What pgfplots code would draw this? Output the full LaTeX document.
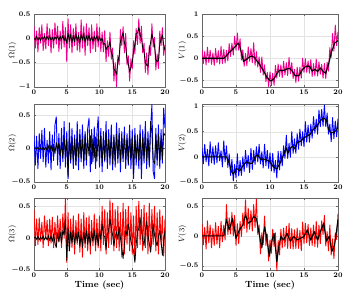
\documentclass[border=0pt]{standalone}
\usepackage{pgfplots}
\usepackage{pgfplotstable}
\pgfplotsset{compat=1.18}
\pgfplotstableread{
t a ab b bb c cb d e f
0.0 0.25 0 0.2 0 0.45 0 0.2 0.18 0.2
0.2 -0.2 -0.03 -0.25 0.01 -0.12 0.02 -0.12 -0.14 -0.15
0.4 0.15 0.05 0.18 -0.01 0.3 -0.02 0.15 0.25 0.14
0.6 -0.28 -0.04 -0.3 0.02 -0.1 0.03 -0.15 -0.1 -0.22
0.8 0.22 0.02 0.22 -0.02 0.32 -0.03 0.25 0.15 0.25
1.0 -0.1 -0.05 -0.15 0.01 -0.05 0.02 -0.1 -0.18 -0.12
1.2 0.28 0.03 0.27 -0.02 0.25 -0.02 0.18 0.3 0.18
1.4 -0.25 -0.02 -0.2 0.02 -0.15 0.03 -0.14 -0.12 -0.2
1.6 0.1 0.05 0.3 -0.02 0.35 -0.03 0.12 0.2 0.12
1.8 -0.22 -0.04 -0.28 0.02 0.0 0.02 -0.16 -0.15 -0.16
2.0 0.3 0.04 0.12 -0.03 0.28 -0.03 0.22 0.22 0.22
2.2 -0.15 -0.03 -0.22 0.04 -0.12 0.04 -0.1 -0.12 -0.14
2.4 0.2 0.05 0.25 -0.05 0.3 -0.04 0.17 0.28 0.16
2.6 -0.3 -0.04 -0.32 0.05 -0.08 0.03 -0.13 -0.08 -0.2
2.8 0.18 0.02 0.2 -0.04 0.33 -0.05 0.27 0.12 0.24
3.0 -0.2 -0.05 -0.18 0.06 -0.15 0.06 -0.12 -0.2 -0.1
3.2 0.32 0.03 0.35 -0.08 0.25 -0.08 0.2 0.32 0.18
3.4 -0.12 -0.02 0.47 0.09 -0.1 -0.15 -0.11 -0.1 -0.07
3.6 0.25 0.05 -0.25 -0.06 0.35 0.08 0.18 0.22 0.52
3.8 -0.27 -0.04 0.22 0.08 -0.05 -0.06 -0.06 -0.21 0.02
4.0 0.15 0.04 -0.3 -0.11 0.3 0.1 0.33 0.06 0.3
4.2 -0.22 -0.03 0.3 0.09 -0.15 -0.08 0.04 -0.37 0.03
4.4 0.35 0.06 -0.2 -0.14 0.38 0.12 0.34 -0.05 0.39
4.6 -0.18 -0.05 0.4 0.15 0.0 0.05 0.07 -0.48 0.0
4.8 0.22 0.03 -0.28 -0.11 0.63 0.3 0.5 -0.15 0.34
5.0 -0.48 -0.1 0.25 0.14 -0.38 -0.35 0.18 -0.42 -0.16
5.2 0.4 0.1 -0.45 -0.42 0.4 0.15 0.57 0.06 0.2
5.4 -0.2 -0.06 0.38 0.15 -0.2 -0.2 0.18 -0.38 -0.13
5.6 0.28 0.08 -0.22 -0.17 0.3 0.1 0.44 -0.07 0.24
5.8 -0.3 -0.08 0.3 0.11 -0.15 -0.08 -0.04 -0.37 -0.01
6.0 0.2 0.06 -0.3 -0.19 0.35 0.12 0.19 0.0 0.38
6.2 -0.15 -0.07 0.2 0.15 -0.25 -0.1 -0.18 -0.29 0.12
6.4 0.3 0.09 -0.25 -0.25 0.28 0.08 0.11 0.13 0.6
6.6 -0.25 -0.05 0.4 0.17 -0.1 -0.05 -0.17 -0.21 0.06
6.8 0.12 0.06 -0.32 -0.14 0.38 0.1 0.26 0.03 0.46
7.0 -0.28 -0.1 0.28 0.19 -0.22 -0.12 -0.07 -0.31 0.11
7.2 0.38 0.08 -0.2 -0.15 0.3 0.05 0.22 0.17 0.42
7.4 -0.2 -0.04 0.35 0.14 -0.3 -0.15 -0.1 -0.25 0.08
7.6 0.25 0.1 -0.3 -0.19 0.4 0.1 0.35 0.13 0.52
7.8 -0.35 -0.08 0.25 0.21 -0.15 -0.08 -0.16 -0.15 0.14
8.0 0.3 0.05 -0.25 -0.17 0.32 0.12 0.15 0.2 0.61
8.2 -0.15 -0.04 0.3 0.15 -0.2 -0.1 -0.2 -0.1 0.02
8.4 0.22 0.06 0.45 -0.11 0.35 0.08 0.03 0.25 0.18
8.6 -0.3 -0.05 -0.35 0.19 -0.25 -0.12 -0.32 -0.14 -0.3
8.8 0.28 0.03 0.28 -0.23 0.28 0.1 0.03 0.1 0.05
9.0 -0.22 -0.06 -0.2 0.15 -0.12 -0.05 -0.38 -0.22 -0.15
9.2 0.15 0.04 0.32 -0.14 0.38 0.12 -0.15 0.25 0.33
9.4 -0.27 -0.03 -0.3 0.17 -0.2 -0.1 -0.53 -0.18 -0.16
9.6 0.3 0.05 0.22 -0.19 0.3 0.08 -0.32 0.13 0.03
9.8 -0.18 -0.06 0.47 0.23 -0.15 -0.12 -0.64 -0.23 -0.42
10.0 0.22 0.03 -0.28 -0.15 0.35 0.1 -0.31 0.08 -0.07
10.2 -0.27 -0.05 0.3 0.19 -0.2 -0.02 -0.62 -0.28 -0.29
10.4 0.13 0.0 -0.35 -0.21 0.5 0.22 -0.34 0.07 0.11
10.6 -0.28 -0.12 0.25 0.15 -0.1 0.05 -0.61 -0.31 -0.18
10.8 0.16 -0.1 -0.2 -0.17 0.45 0.02 -0.16 -0.07 0.05
11.0 -0.48 -0.23 0.4 0.23 -0.25 -0.18 -0.45 -0.42 -0.58
11.2 -0.05 -0.17 -0.3 -0.19 0.4 0.05 -0.13 0.11 -0.08
11.4 -0.37 -0.17 0.28 0.14 -0.15 0.12 -0.41 -0.26 -0.32
11.6 0.13 -0.07 -0.25 -0.15 0.6 0.3 -0.15 0.11 0.11
11.8 -0.43 -0.29 0.35 0.19 -0.1 0.15 -0.44 -0.18 -0.2
12.0 -0.2 -0.36 -0.32 -0.23 0.55 0.05 -0.07 0.22 0.13
12.2 -0.88 -0.63 0.2 0.17 -0.2 -0.12 -0.38 -0.03 -0.18
12.4 -0.5 -0.67 -0.28 -0.19 0.45 0.02 -0.1 0.43 0.16
12.6 -1.0 -0.74 0.38 0.21 -0.15 0.1 -0.39 -0.03 -0.21
12.8 -0.35 -0.48 -0.22 -0.15 0.5 -0.02 0.02 0.27 0.21
13.0 -0.55 -0.35 0.3 0.19 -0.2 0.18 -0.35 -0.01 -0.21
13.2 0.18 -0.07 -0.35 -0.21 0.4 0.0 -0.1 0.5 0.12
13.4 -0.15 0.03 0.25 0.15 -0.3 -0.15 -0.46 0.07 -0.22
13.6 0.24 0.11 -0.2 -0.14 0.55 -0.32 -0.25 0.36 0.1
13.8 -0.3 -0.09 0.32 0.19 -0.25 -0.1 -0.55 0.07 -0.21
14.0 0.1 -0.16 -0.3 -0.17 0.45 0.12 -0.2 0.46 0.13
14.2 -0.55 -0.43 0.22 0.15 -0.1 0.05 -0.52 0.15 -0.21
14.4 -0.36 -0.53 -0.25 -0.23 0.5 0.22 -0.2 0.55 0.09
14.6 -0.88 -0.69 0.35 0.19 -0.2 0.08 -0.45 0.22 -0.25
14.8 -0.42 -0.6 -0.3 -0.15 0.4 -0.05 0.0 0.5 0.23
15.0 -0.63 -0.5 0.28 0.17 -0.25 -0.12 -0.32 0.2 -0.13
15.2 -0.05 -0.27 -0.45 -0.38 0.35 -0.2 -0.01 0.7 0.21
15.4 -0.32 -0.12 0.3 0.19 -0.35 -0.38 -0.32 0.29 -0.12
15.6 0.2 0.1 -0.25 -0.15 0.5 -0.1 -0.06 0.63 0.19
15.8 -0.13 0.11 0.2 0.14 -0.15 0.1 -0.34 0.29 -0.16
16.0 0.4 0.22 -0.3 -0.19 0.58 0.15 -0.03 0.65 0.13
16.2 -0.1 0.07 0.35 0.21 -0.1 0.32 -0.41 0.37 -0.16
16.4 0.25 0.0 -0.45 -0.25 0.45 0.12 -0.12 0.8 0.18
16.6 -0.3 -0.19 0.28 0.17 -0.2 -0.02 -0.4 0.47 -0.18
16.8 -0.1 -0.28 -0.22 -0.15 0.52 -0.12 -0.02 0.75 0.24
17.0 -0.7 -0.5 0.4 0.23 -0.15 0.1 -0.4 0.45 -0.19
17.2 -0.3 -0.55 -0.3 -0.19 0.4 0.27 -0.08 0.93 0.18
17.4 -0.75 -0.57 0.25 0.15 -0.25 0.05 -0.36 0.6 -0.13
17.6 -0.15 -0.25 -0.28 -0.21 0.55 -0.08 -0.14 0.94 0.25
17.8 -0.35 -0.09 0.3 0.4 -0.2 -0.22 -0.45 0.61 0.02
18.0 0.3 0.09 0.65 0.23 0.45 0.0 -0.12 1.03 0.34
18.2 -0.18 -0.03 -0.35 -0.19 -0.1 0.22 -0.46 0.6 -0.17
18.4 0.02 -0.15 -0.45 -0.23 0.5 0.05 -0.09 0.87 0.07
18.6 -0.65 -0.44 0.3 0.19 -0.2 -0.05 -0.29 0.45 -0.25
18.8 -0.32 -0.48 -0.25 -0.15 0.4 -0.12 0.24 0.65 0.18
19.0 -0.62 -0.45 0.35 0.21 -0.25 0.02 0.02 0.3 -0.32
19.2 0.15 -0.12 -0.3 -0.19 0.45 0.12 0.56 0.78 -0.05
19.4 -0.15 -0.02 0.28 0.15 -0.1 -0.05 0.16 0.36 -0.38
19.6 0.22 0.07 -0.22 -0.17 0.35 -0.27 0.75 0.71 0.05
19.8 -0.35 -0.14 0.6 0.23 -0.28 -0.05 0.28 0.4 -0.06
20.0 -0.13 -0.24 0.3 0.19 0.3 0.12 0.6 0.76 0.37
}\data

\pgfplotsset{
  myax/.style={
    scale only axis, anchor=north west,
    xmin=0, xmax=20, xtick={0,5,10,15,20},
    grid=major, grid style={gray!22, line width=0.3pt},
    tick align=inside, major tick length=2pt,
    axis line style={black!60, line width=0.4pt},
    tick style={black!60, line width=0.4pt},
    tick label style={font=\fontsize{7}{8}\selectfont\boldmath},
    xticklabel style={yshift=1pt},
    every axis plot/.append style={line width=0.9pt, line join=round},
    ylabel style={font=\fontsize{8.5}{9}\selectfont},
    xlabel style={font=\fontsize{9}{10}\selectfont\bfseries, yshift=3pt},
  },
  lax/.style={myax, width=131pt, ylabel style={at={(axis description cs:-0.165,0.5)}, anchor=center}},
  rax/.style={myax, width=136pt, ylabel style={at={(axis description cs:-0.145,0.5)}, anchor=center}},
}

\begin{document}
\begin{tikzpicture}
\path[use as bounding box] (0,0) rectangle (355pt,295pt);

% Omega(1)
\begin{axis}[lax, at={(34pt,281pt)}, height=73pt, ymin=-1, ymax=0.5, ytick={-1,-0.5,0,0.5}, ylabel={$\Omega(1)$}]
\addplot[magenta] table[x=t,y=a]{\data};
\addplot[black, line width=0.8pt] table[x=t,y=ab]{\data};
\end{axis}

% V(1)
\begin{axis}[rax, at={(202pt,281pt)}, height=73pt, ymin=-0.65, ymax=1, ytick={-0.5,0,0.5,1}, ylabel={$V(1)$}]
\addplot[magenta] table[x=t,y=d]{\data};
\addplot[black, line width=1.1pt] coordinates {(0,0)(3.2,0)(3.6,0.06)(4.0,0.13)(4.5,0.2)(5.0,0.28)(5.3,0.34)(5.5,0.3)(5.8,0.12)(6.1,-0.07)(6.5,-0.03)(7.0,0.03)(7.3,0.05)(7.7,0.02)(8.0,-0.05)(8.3,-0.1)(8.7,-0.2)(9.1,-0.3)(9.5,-0.42)(10.0,-0.51)(10.3,-0.5)(10.7,-0.44)(11.0,-0.35)(11.4,-0.27)(11.8,-0.28)(12.1,-0.27)(12.5,-0.24)(12.9,-0.23)(13.3,-0.3)(13.7,-0.39)(14.2,-0.4)(14.5,-0.33)(14.8,-0.25)(15.3,-0.18)(15.8,-0.18)(16.2,-0.29)(16.6,-0.25)(17.0,-0.3)(17.4,-0.22)(17.9,-0.31)(18.2,-0.34)(18.6,-0.14)(19.0,0.12)(19.5,0.34)(20.0,0.4)};
\end{axis}

% Omega(2)
\begin{axis}[lax, at={(34pt,191pt)}, height=78pt, ymin=-0.5, ymax=0.66, ytick={-0.5,0,0.5}, ylabel={$\Omega(2)$}]
\addplot[blue] table[x=t,y=b]{\data};
\addplot[black, line width=0.8pt] table[x=t,y=bb]{\data};
\end{axis}

% V(2)
\begin{axis}[rax, at={(202pt,191pt)}, height=78pt, ymin=-0.5, ymax=1.05, ytick={-0.5,0,0.5,1}, ylabel={$V(2)$}]
\addplot[blue] table[x=t,y=e]{\data};
\addplot[black, line width=1.1pt] coordinates {(0,0)(3.6,0)(4.0,-0.12)(4.3,-0.28)(4.55,-0.34)(4.8,-0.3)(5.05,-0.23)(5.3,-0.25)(5.55,-0.28)(6.0,-0.18)(6.5,-0.1)(7.0,-0.13)(7.4,-0.13)(7.8,0.0)(8.2,0.04)(8.7,-0.06)(9.0,-0.04)(9.5,-0.06)(10.0,-0.1)(10.5,-0.2)(11.0,-0.24)(11.5,-0.12)(12.0,0.04)(12.4,0.18)(12.6,0.07)(13.0,0.17)(13.3,0.21)(13.6,0.16)(14.0,0.28)(14.5,0.31)(15.0,0.38)(15.4,0.41)(15.9,0.45)(16.4,0.55)(16.9,0.61)(17.4,0.72)(17.9,0.77)(18.3,0.73)(18.6,0.55)(18.9,0.48)(19.4,0.48)(20.0,0.58)};
\end{axis}

% Omega(3)
\begin{axis}[lax, at={(34pt,97pt)}, height=72pt, ymin=-0.5, ymax=0.63, ytick={-0.5,0,0.5}, ylabel={$\Omega(3)$}, xlabel={Time (sec)}]
\addplot[red] table[x=t,y=c]{\data};
\addplot[black, line width=0.8pt] table[x=t,y=cb]{\data};
\end{axis}

% V(3)
\begin{axis}[rax, at={(202pt,97pt)}, height=72pt, ymin=-0.57, ymax=0.63, ytick={-0.5,0,0.5}, ylabel={$V(3)$}, xlabel={Time (sec)}]
\addplot[red] table[x=t,y=f]{\data};
\addplot[black, line width=1.1pt] coordinates {(0,0)(3.2,0)(3.6,0.27)(4.0,0.1)(4.5,0.29)(5.0,-0.04)(5.5,0.1)(6.0,0.18)(6.4,0.35)(6.8,0.21)(7.2,0.24)(7.6,0.32)(8.0,0.29)(8.4,0.04)(8.8,-0.2)(9.2,0.15)(9.5,-0.01)(9.9,-0.34)(10.3,-0.07)(10.6,0.04)(11.0,-0.43)(11.3,-0.18)(11.6,-0.01)(12.0,-0.07)(12.5,0.04)(13.0,-0.09)(13.5,-0.01)(14.0,-0.07)(14.5,-0.04)(15.0,-0.01)(15.5,0.1)(16.0,-0.07)(16.5,0.07)(17.0,-0.07)(17.5,0.1)(17.9,0.21)(18.3,-0.09)(18.7,-0.01)(19.1,-0.26)(19.5,-0.15)(19.8,0.1)(20.0,0.27)};
\end{axis}
\end{tikzpicture}
\end{document}
